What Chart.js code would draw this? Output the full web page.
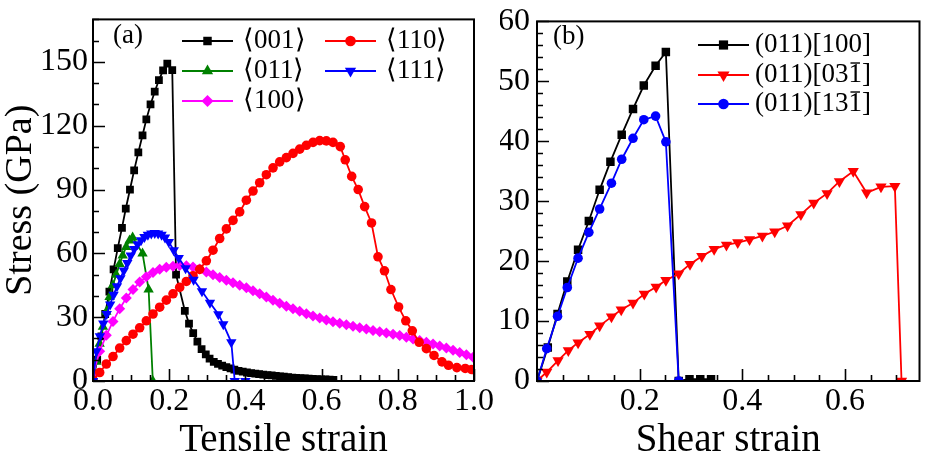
<!DOCTYPE html>
<html>
<head>
<meta charset="utf-8">
<script src="https://cdn.jsdelivr.net/npm/chart.js@4.4.1/dist/chart.umd.min.js"></script>
<style>
    html, body { margin: 0; padding: 0; background: #fff; font-family: "Liberation Serif", serif; }
    #wrap { position: relative; width: 926px; height: 463px; overflow: hidden; }
    #chart-a { position: absolute; left: 0; top: 0; }
    #chart-b { position: absolute; left: 500px; top: 0; }
</style>
</head>
<body>
<div id="wrap">
    <canvas id="chart-a" width="500" height="463"></canvas>
    <canvas id="chart-b" width="426" height="463"></canvas>
</div>
<script>
(function () {
    'use strict';

    // --- Data: (a) tensile strain vs stress (GPa) ---

    const labelsA = ['\u27E8001\u27E9', '\u27E8011\u27E9', '\u27E8100\u27E9', '\u27E8110\u27E9', '\u27E8111\u27E9'];

    const strain001 = [0, 0.011, 0.022, 0.032, 0.043, 0.054, 0.065, 0.076, 0.086, 0.097, 0.108, 0.119, 0.130, 0.140,
        0.151, 0.162, 0.173, 0.184, 0.195, 0.208, 0.218, 0.241, 0.252, 0.263, 0.274, 0.285, 0.296, 0.306, 0.317,
        0.328, 0.339, 0.350, 0.361, 0.371, 0.382, 0.393, 0.404, 0.415, 0.426, 0.436, 0.447, 0.458, 0.469, 0.480,
        0.491, 0.501, 0.512, 0.523, 0.534, 0.545, 0.556, 0.566, 0.577, 0.588, 0.599, 0.610, 0.621, 0.631];
    const stress001 = [0, 10, 21, 31.5, 42, 52.5, 62.5, 72, 81, 90, 99, 107.5, 115.5, 123,
        130, 136, 141.5, 146, 149.2, 146.2, 50, 33, 27, 22.5, 18.5, 15, 12.5, 10.5, 9,
        8, 7.2, 6.5, 5.9, 5.3, 4.8, 4.4, 4.0, 3.7, 3.5, 3.2, 3.0, 2.8, 2.6, 2.4,
        2.2, 2.0, 1.8, 1.6, 1.5, 1.3, 1.2, 1.1, 1.0, 0.9, 0.8, 0.7, 0.6, 0.5];

    const strain011 = [0, 0.0087, 0.0174, 0.026, 0.035, 0.0435, 0.052, 0.061, 0.070, 0.078, 0.087, 0.096, 0.104,
        0.130, 0.146, 0.157];
    const stress011 = [0, 9, 17.5, 25.5, 32.5, 39.5, 45, 50, 55, 59, 63, 66, 67.5, 60, 43, 0];

    const strain100 = [0, 0.0175, 0.035, 0.0525, 0.070, 0.0875, 0.105, 0.1225, 0.140, 0.1575, 0.175, 0.1925,
        0.210, 0.2275, 0.245, 0.2625, 0.280, 0.2975, 0.315, 0.3325, 0.350, 0.3675, 0.385, 0.4025, 0.420, 0.4375,
        0.455, 0.4725, 0.490, 0.5075, 0.525, 0.5425, 0.560, 0.5775, 0.595, 0.6125, 0.630, 0.6475, 0.665, 0.6825,
        0.700, 0.7175, 0.735, 0.7525, 0.770, 0.7875, 0.805, 0.8225, 0.840, 0.8575, 0.875, 0.8925, 0.910, 0.9275,
        0.945, 0.9625, 0.980, 0.9975];
    const stress100 = [3, 14, 21.5, 28, 34, 39, 43, 46.5, 49, 51, 52.5, 53.5,
        54, 54.3, 54.2, 53.6, 52.6, 51.2, 50, 48.7, 47.4, 46.2, 45, 43.8, 42.4, 41,
        39.5, 38, 36.6, 35.2, 34, 32.8, 31.6, 30.6, 29.6, 28.7, 27.9, 27.1, 26.4, 25.7,
        25, 24.4, 23.8, 23.2, 22.6, 22, 21.4, 20.6, 19.8, 19, 18.2, 17.4, 16.5, 15.5,
        14.5, 13.4, 12.3, 11.2];

    const strain110 = [0, 0.0175, 0.035, 0.0525, 0.070, 0.0875, 0.105, 0.1225, 0.140, 0.1575, 0.175, 0.1925,
        0.210, 0.2275, 0.245, 0.2625, 0.280, 0.2975, 0.315, 0.3325, 0.350, 0.3675, 0.385, 0.4025, 0.420, 0.4375,
        0.455, 0.4725, 0.490, 0.5075, 0.525, 0.5425, 0.560, 0.5775, 0.595, 0.6125, 0.630, 0.649, 0.662, 0.679,
        0.696, 0.713, 0.731, 0.748, 0.765, 0.782, 0.802, 0.821, 0.838, 0.856, 0.875, 0.895, 0.916, 0.933,
        0.955, 0.977, 0.994];
    const stress110 = [0.5, 4, 8, 11.5, 15.5, 19, 22, 25, 28.3, 31.5, 34.7, 38,
        41, 44, 46.8, 49.5, 52.5, 56.5, 61.5, 67, 71.5, 75.5, 79.5, 85, 89.3, 93.2,
        97, 100.2, 103, 105, 107, 109, 110.8, 112.2, 113, 112.9, 112.2, 110.2, 104, 96.2,
        90, 82, 74.3, 58.4, 51.8, 43, 34.8, 28.3, 23.6, 18.2, 15.2, 12, 9, 7.4,
        6.3, 5.9, 5.4];

    const strain111 = [0, 0.009, 0.018, 0.027, 0.036, 0.045, 0.054, 0.063, 0.072, 0.081, 0.090, 0.099, 0.108,
        0.117, 0.126, 0.135, 0.144, 0.153, 0.162, 0.171, 0.180, 0.189, 0.199, 0.212, 0.225, 0.243, 0.264,
        0.286, 0.307, 0.329, 0.342, 0.363, 0.372, 0.400];
    const stress111 = [0, 14, 21, 27, 31.5, 36, 40.5, 44.5, 48.3, 52, 55.5, 59, 62,
        64.3, 66.2, 67.7, 68.7, 69.3, 69.6, 69.4, 68.8, 67.5, 65.3, 61.5, 57.8, 53, 47.6,
        42.2, 36.8, 31.4, 26.7, 18.2, 0, 0];

    const xTicksA = [0, 0.2, 0.4, 0.6, 0.8, 1.0];
    const yTicksA = [0, 30, 60, 90, 120, 150];

    // --- Data: (b) shear strain vs stress (GPa) ---

    const labelsB = ['(011)[100]', '(011)[031\u0305]', '(011)[131\u0305]'];

    const shear100 = [0, 0.021, 0.040, 0.059, 0.080, 0.101, 0.122, 0.143, 0.165, 0.187, 0.208, 0.231, 0.251,
        0.276, 0.297, 0.318, 0.339];
    const tau100 = [0, 5.6, 11.2, 16.6, 21.9, 26.7, 31.9, 36.6, 41.1, 45.4, 49.3, 52.6, 54.9,
        0, 0.3, 0.3, 0.3];

    const shear031 = [0, 0.019, 0.041, 0.061, 0.080, 0.103, 0.122, 0.145, 0.164, 0.187, 0.209, 0.232, 0.251,
        0.276, 0.298, 0.321, 0.345, 0.369, 0.391, 0.414, 0.439, 0.463, 0.488, 0.514, 0.539, 0.565, 0.589,
        0.616, 0.642, 0.670, 0.697, 0.710];
    const tau031 = [0, 1.5, 3.4, 5.1, 6.4, 7.8, 9.2, 10.7, 11.9, 13, 14.5, 15.7, 16.8,
        17.9, 19.5, 20.8, 22, 22.7, 23.1, 23.6, 24.2, 24.9, 25.9, 27.8, 29.7, 31.3, 33.3,
        35, 31.4, 32.4, 32.5, 0];

    const shear131 = [0, 0.019, 0.040, 0.059, 0.080, 0.101, 0.122, 0.145, 0.165, 0.187, 0.208, 0.231, 0.251,
        0.276];
    const tau131 = [0, 5.4, 10.8, 15.6, 20.5, 24.8, 28.7, 33, 37, 40.5, 43.6, 44.2, 39.9, 0];

    const xTicksB = [0.2, 0.4, 0.6];
    const yTicksB = [0, 10, 20, 30, 40, 50, 60];

    // --- Helpers ---

    const FONT = '"Liberation Serif", "Times New Roman", serif';

    function series(label, xs, ys, color, style, radius, rotation, order) {
        return {
            label: label,
            data: xs.map((x, i) => ({ x: x, y: ys[i] })),
            borderColor: color,
            backgroundColor: color,
            borderWidth: 1.8,
            pointStyle: style,
            pointRadius: radius,
            pointRotation: rotation,
            pointBackgroundColor: color,
            pointBorderColor: color,
            pointBorderWidth: 0,
            tension: 0,
            fill: false,
            order: order,
        };
    }

    function isOnGrid(v, step) {
        return Math.abs(v / step - Math.round(v / step)) < 1e-6;
    }

    function drawMarker(ctx, style, r, x, y, rot) {
        ctx.beginPath();
        if (style === 'rect') {
            const h = r * Math.SQRT1_2;
            ctx.rect(x - h, y - h, 2 * h, 2 * h);
        } else if (style === 'rectRot') {
            ctx.moveTo(x, y - r);
            ctx.lineTo(x + r, y);
            ctx.lineTo(x, y + r);
            ctx.lineTo(x - r, y);
            ctx.closePath();
        } else if (style === 'triangle') {
            let a = (rot || 0) * Math.PI / 180;
            ctx.moveTo(x + Math.sin(a) * r, y - Math.cos(a) * r);
            a += 2 * Math.PI / 3;
            ctx.lineTo(x + Math.sin(a) * r, y - Math.cos(a) * r);
            a += 2 * Math.PI / 3;
            ctx.lineTo(x + Math.sin(a) * r, y - Math.cos(a) * r);
            ctx.closePath();
        } else {
            ctx.arc(x, y, r, 0, Math.PI * 2);
        }
        ctx.fill();
    }

    // Box around the plot plus inward tick marks on left and bottom
    const frameTicks = {
        id: 'frameTicks',
        afterDatasetsDraw(chart, args, opts) {
            const ctx = chart.ctx;
            const a = chart.chartArea;
            const x = chart.scales.x;
            const y = chart.scales.y;
            ctx.save();
            ctx.strokeStyle = '#000';
            ctx.lineWidth = 1.6;
            ctx.beginPath();
            for (let i = 0; ; i++) {
                const v = x.min + i * opts.xMinor;
                if (v > x.max + 1e-9) break;
                const px = Math.round(x.getPixelForValue(v)) + 0.5;
                const len = isOnGrid(v, opts.xMajor) ? 12 : 6;
                ctx.moveTo(px, a.bottom);
                ctx.lineTo(px, a.bottom - len);
            }
            for (let i = 0; ; i++) {
                const v = y.min + i * opts.yMinor;
                if (v > y.max + 1e-9) break;
                const py = Math.round(y.getPixelForValue(v)) + 0.5;
                const len = isOnGrid(v, opts.yMajor) ? 12 : 6;
                ctx.moveTo(a.left, py);
                ctx.lineTo(a.left + len, py);
            }
            ctx.stroke();
            ctx.lineWidth = 2;
            ctx.strokeRect(a.left, a.top, a.right - a.left, a.bottom - a.top);
            ctx.restore();
        },
    };

    // Panel tag and key drawn inside the frame
    const seriesKey = {
        id: 'seriesKey',
        afterDraw(chart, args, opts) {
            const ctx = chart.ctx;
            ctx.save();
            ctx.fillStyle = '#000';
            ctx.font = opts.fontSize + 'px ' + FONT;
            ctx.textBaseline = 'middle';
            ctx.textAlign = 'left';
            ctx.fillText(opts.tag, opts.tagX, opts.tagY);

            chart.data.datasets.forEach((d, i) => {
                const p = opts.slots[i];
                ctx.strokeStyle = d.borderColor;
                ctx.lineWidth = 2;
                ctx.beginPath();
                ctx.moveTo(p[0], p[1]);
                ctx.lineTo(p[0] + opts.lineLen, p[1]);
                ctx.stroke();
                ctx.fillStyle = d.borderColor;
                drawMarker(ctx, d.pointStyle, d.pointRadius + 0.5, p[0] + opts.lineLen / 2, p[1], d.pointRotation);

                // overline (U+0305) drawn by hand above the preceding glyph
                ctx.fillStyle = '#000';
                const raw = d.label;
                const k = raw.indexOf('\u0305');
                const text = raw.replace('\u0305', '');
                const tx = p[0] + opts.lineLen + opts.gap;
                ctx.fillText(text, tx, p[1]);
                if (k > 0) {
                    const x0 = tx + ctx.measureText(text.slice(0, k - 1)).width;
                    const x1 = tx + ctx.measureText(text.slice(0, k)).width;
                    ctx.fillRect(x0 + 2, p[1] - opts.fontSize * 0.47, x1 - x0 - 4, 1.4);
                }
            });
            ctx.restore();
        },
    };

    function makeChart(canvasId, datasets, cfg) {
        return new Chart(document.getElementById(canvasId), {
            type: 'line',
            data: { datasets: datasets },
            options: {
                responsive: false,
                animation: false,
                events: [],
                layout: { padding: { left: 0, right: cfg.padRight, top: 15, bottom: 0 } },
                plugins: {
                    legend: { display: false },
                    tooltip: { enabled: false },
                    frameTicks: cfg.frame,
                    seriesKey: cfg.key,
                },
                scales: {
                    x: {
                        type: 'linear',
                        min: cfg.xMin,
                        max: cfg.xMax,
                        afterFit: (s) => { s.height = 82; },
                        grid: { display: false, drawTicks: false },
                        border: { display: false },
                        ticks: {
                            stepSize: cfg.frame.xMajor,
                            includeBounds: false,
                            autoSkip: false,
                            maxRotation: 0,
                            padding: 6,
                            color: '#000',
                            font: { family: FONT, size: 32, lineHeight: 0.9 },
                            callback: (v) => (cfg.xLabels.some(t => Math.abs(t - v) < 1e-6) ? v.toFixed(1) : null),
                        },
                        title: {
                            display: true,
                            text: cfg.xTitle,
                            color: '#000',
                            padding: { top: 0, bottom: 1 },
                            font: { family: FONT, size: 39, lineHeight: 1.1 },
                        },
                    },
                    y: {
                        type: 'linear',
                        min: cfg.yMin,
                        max: cfg.yMax,
                        afterFit: (s) => { s.width = cfg.yWidth; },
                        grid: { display: false, drawTicks: false },
                        border: { display: false },
                        ticks: {
                            stepSize: cfg.frame.yMajor,
                            includeBounds: false,
                            autoSkip: false,
                            padding: cfg.yPad,
                            color: '#000',
                            font: { family: FONT, size: 32, lineHeight: 0.9 },
                            callback: (v) => (cfg.yLabels.some(t => Math.abs(t - v) < 1e-6) ? String(v) : null),
                        },
                        title: {
                            display: !!cfg.yTitle,
                            text: cfg.yTitle,
                            color: '#000',
                            padding: { top: 0, bottom: 0 },
                            font: { family: FONT, size: 38, lineHeight: 1.1 },
                        },
                    },
                },
            },
            plugins: [frameTicks, seriesKey],
        });
    }

    // --- (a) Tensile ---

    makeChart('chart-a', [
        series(labelsA[0], strain001, stress001, '#000000', 'rect', 5.5, 0, 5),
        series(labelsA[1], strain011, stress011, '#008000', 'triangle', 6, 0, 4),
        series(labelsA[2], strain100, stress100, '#ff00ff', 'rectRot', 5.5, 0, 3),
        series(labelsA[3], strain110, stress110, '#ff0000', 'circle', 4.8, 0, 2),
        series(labelsA[4], strain111, stress111, '#0000ff', 'triangle', 6, 180, 1),
    ], {
        padRight: 19,
        xMin: 0, xMax: 1.0,
        yMin: 0, yMax: 170,
        yWidth: 93, yPad: 5,
        xLabels: xTicksA, yLabels: yTicksA,
        xTitle: 'Tensile strain',
        yTitle: 'Stress (GPa)',
        frame: { xMinor: 0.05, xMajor: 0.2, yMinor: 10, yMajor: 30 },
        key: {
            tag: '(a)', tagX: 113, tagY: 36, fontSize: 27, lineLen: 51, gap: 10,
            slots: [[182, 41], [182, 71], [182, 101], [325, 41], [325, 71]],
        },
    });

    // --- (b) Shear ---

    makeChart('chart-b', [
        series(labelsB[0], shear100, tau100, '#000000', 'rect', 6, 0, 3),
        series(labelsB[1], shear031, tau031, '#ff0000', 'triangle', 6.5, 180, 2),
        series(labelsB[2], shear131, tau131, '#0000ff', 'circle', 4.8, 0, 1),
    ], {
        padRight: 5,
        xMin: 0, xMax: 0.745,
        yMin: 0, yMax: 60,
        yWidth: 37, yPad: 7,
        xLabels: xTicksB, yLabels: yTicksB,
        xTitle: 'Shear strain',
        yTitle: '',
        frame: { xMinor: 0.05, xMajor: 0.2, yMinor: 2, yMajor: 10 },
        key: {
            tag: '(b)', tagX: 53, tagY: 37, fontSize: 27, lineLen: 51, gap: 6,
            slots: [[198, 45], [198, 75], [198, 104]],
        },
    });
})();
</script>
</body>
</html>
